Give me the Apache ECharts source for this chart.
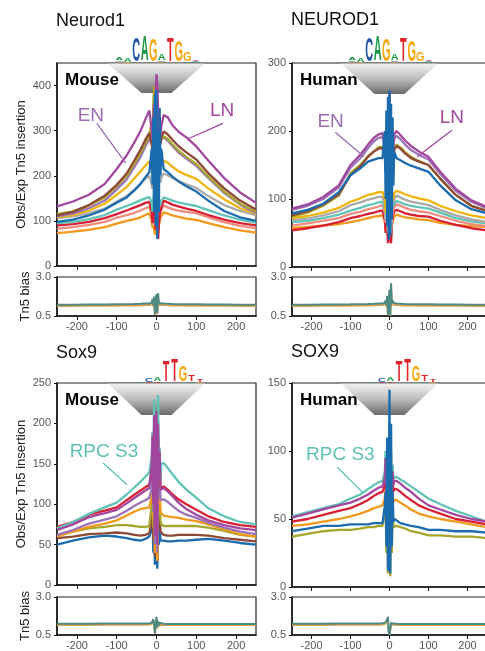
<!DOCTYPE html>
<html>
<head>
<meta charset="utf-8">
<script src="https://cdn.jsdelivr.net/npm/echarts@6/dist/echarts.min.js"></script>
<style>
html, body { margin: 0; padding: 0; background: #fff; overflow: hidden; }
#chart { width: 490px; height: 651px; }
</style>
</head>
<body>
<div id="chart"></div>
<script>
// distance from motif centre (bp)
const bp = [-250,-210,-170,-130,-100,-75,-55,-40,-28,-18, -12,-10,-8,-6,-4,-2,0,2,4,6,8,10,12, 18,28,40,55,75,100,130,170,210,250];
const xTicks = [-200, -100, 0, 100, 200];

// Neurod1, mouse (Obs/Exp Tn5 insertion)
const nmPurple = [132,143,158,182,215,245,275,300,325,345, 300,280,330,360,320,390,425,400,350,300,330,290,310, 335,330,312,298,285,265,234,195,163,140];
const nmBrown  = [112,120,135,156,180,205,235,258,280,295, 270,255,290,330,300,340,360,345,320,280,300,270,285, 298,292,280,266,252,236,206,172,145,125];
const nmOlive  = [115,121,134,152,177,200,228,250,272,288, 320,300,360,400,370,390,380,340,330,310,290,300,280, 288,282,270,256,242,226,198,165,138,120];
const nmLav    = [110,116,128,145,170,192,220,242,265,282, 270,260,300,320,300,330,350,320,300,280,290,275,280, 285,278,266,252,238,222,195,162,136,117];
const nmYellow = [108,113,123,138,158,175,195,210,222,232, 210,200,240,270,250,290,300,280,250,215,240,220,225, 234,229,220,210,202,193,172,148,128,116];
const nmGray   = [106,110,117,127,143,155,170,183,193,200, 180,170,200,230,210,250,260,240,220,190,200,185,195, 205,201,195,188,181,173,155,135,122,113];
const nmTeal   = [95,98,104,113,125,133,140,146,150,153, 140,120,150,170,130,160,180,150,120,130,140,135,145, 152,149,145,141,137,133,124,112,103,96];
const nmRed    = [90,93,98,106,115,123,130,135,140,142, 120,95,130,140,100,80,110,70,60,90,115,120,130, 145,141,136,132,127,122,113,103,95,90];
const nmSalmon = [83,86,91,98,107,113,118,123,128,131, 115,100,120,130,110,95,105,90,95,110,120,118,125, 134,130,126,123,120,117,108,97,89,84];
const nmOrange = [73,76,80,86,94,100,104,108,113,117, 100,85,90,80,70,75,85,65,75,90,100,108,112, 119,116,112,109,105,102,95,86,79,74];
const nmBlue   = [98,103,112,125,140,152,168,182,197,208, 260,180,330,120,380,90,390,60,300,120,350,200,260, 215,208,198,188,177,165,145,122,108,100];

// NEUROD1, human
const nhPurple = [86,92,103,120,150,165,180,190,195,197, 180,160,190,220,170,210,260,200,170,160,190,180,195, 200,194,186,178,170,162,140,115,98,88];
const nhLav    = [84,90,100,117,146,160,175,185,190,191, 175,155,180,200,160,200,240,190,160,155,180,175,188, 193,188,180,172,165,158,137,112,96,86];
const nhBrown  = [76,82,92,107,135,148,162,170,174,175, 160,140,170,190,150,190,230,180,150,140,165,160,172, 178,174,167,160,155,150,130,106,90,82];
const nhOlive  = [74,80,90,105,138,150,163,170,176,177, 165,145,175,200,155,195,240,185,155,145,170,165,175, 180,176,169,162,156,150,130,106,90,83];
const nhBlue   = [79,84,93,110,135,145,155,158,160,160, 200,100,230,60,250,40,260,45,240,70,220,120,170, 160,157,153,149,145,140,120,98,85,79];
const nhYellow = [72,75,80,87,96,101,106,108,110,110, 100,80,110,90,70,110,130,90,70,95,110,100,108, 112,110,107,104,101,98,90,82,76,72];
const nhGray   = [69,71,76,82,91,95,99,101,103,103, 90,70,95,80,50,100,120,70,50,85,100,95,100, 105,102,99,96,94,91,84,76,70,66];
const nhTeal   = [66,68,72,77,83,87,91,93,95,96, 85,70,90,80,60,90,100,75,60,80,90,88,92, 97,95,92,90,88,86,80,72,67,64];
const nhSalmon = [61,64,68,72,78,81,85,87,89,91, 80,65,85,75,55,80,90,65,55,70,80,82,88, 92,90,87,84,82,80,75,68,63,60];
const nhRed    = [54,57,61,66,72,75,78,80,82,83, 70,50,80,60,35,70,80,40,35,60,75,78,82, 84,82,79,77,75,74,68,62,57,54];
const nhOrange = [57,59,61,63,66,69,72,74,75,76, 68,55,70,60,45,65,70,50,45,60,68,70,74, 77,75,73,72,70,69,65,62,60,59];

// Sox9, mouse
const smTeal   = [70,78,88,96,102,112,121,128,134,139, 160,190,120,230,80,140,200,60,235,140,170,130,150, 151,145,137,128,118,108,95,85,78,75];
const smRed    = [72,78,87,92,96,105,112,117,121,124, 140,170,110,190,70,120,160,60,180,120,150,120,122, 122,118,112,106,100,93,85,78,74,72];
const smPurple = [68,75,84,89,93,101,108,113,117,120, 150,185,100,210,60,150,215,50,200,140,165,118,120, 120,116,110,102,94,87,80,74,70,68];
const smLav    = [62,68,76,81,85,92,98,102,105,108, 120,150,90,170,50,120,170,40,160,110,140,105,106, 106,103,98,92,87,83,77,71,66,63];
const smOrange = [60,66,72,76,80,86,91,94,95,96, 110,140,80,150,40,100,140,30,140,100,120,90,88, 86,85,84,83,81,79,75,69,63,60];
const smOlive  = [62,66,70,72,74,74,73,72,72,73, 100,130,70,150,40,100,130,30,120,90,110,80,75, 73,73,73,73,73,73,71,67,62,60];
const smBrown  = [58,60,63,64,65,64,62,61,62,64, 80,100,55,110,35,80,100,30,90,70,85,66,64, 62,61,61,62,62,62,61,58,56,54];
const smBlue   = [50,55,59,61,60,58,56,55,57,60, 70,90,40,100,25,60,110,20,90,50,80,55,57, 55,54,54,55,55,56,57,55,52,50];

// SOX9, human
const shTeal   = [52,55,58,61,65,68,72,75,77,78, 85,100,70,95,50,80,110,40,90,70,90,80,80, 81,79,77,74,70,65,61,56,52,48];
const shPurple = [51,54,57,60,62,65,68,71,73,74, 80,95,65,90,40,70,100,35,85,65,85,75,78, 78,76,73,70,65,60,57,53,50,48];
const shRed    = [48,50,53,56,58,61,64,67,69,70, 75,90,60,85,35,65,95,30,80,60,80,70,72, 72,70,67,64,60,57,54,50,48,46];
const shOrange = [45,46,48,50,52,54,56,58,59,60, 65,80,50,75,30,60,85,25,75,55,70,62,64, 64,62,60,57,54,52,50,48,46,44];
const shBlue   = [41,43,45,45,46,46,46,47,47,47, 60,70,30,110,12,60,145,10,120,30,70,48,50, 49,47,46,45,44,42,42,41,41,40];
const shOlive  = [37,39,41,42,42,43,44,44,45,45, 55,65,25,90,10,50,120,8,100,25,60,44,45, 45,44,43,41,40,38,38,37,37,36];

// Tn5 bias
const nmBiasTeal   = [1.22,1.22,1.23,1.24,1.25,1.26,1.27,1.28,1.30,1.30, 1.35,1.6,1.2,1.75,0.6,1.5,1.9,0.7,1.95,1.3,1.4,1.35,1.32, 1.3,1.29,1.27,1.26,1.25,1.25,1.24,1.23,1.22,1.22];
const nmBiasOrange = [1.14,1.14,1.15,1.15,1.16,1.17,1.18,1.19,1.2,1.2, 1.25,1.45,1.1,1.55,0.55,1.35,1.65,0.6,1.7,1.2,1.3,1.25,1.22, 1.2,1.19,1.18,1.17,1.16,1.16,1.15,1.15,1.14,1.14];
const nhBiasTeal   = [1.22,1.22,1.23,1.24,1.25,1.26,1.27,1.28,1.30,1.30, 1.35,1.5,1.2,1.8,0.6,1.4,2.2,0.5,2.6,1.3,1.5,1.35,1.32, 1.3,1.29,1.27,1.26,1.25,1.25,1.24,1.23,1.22,1.22];
const nhBiasOrange = [1.14,1.14,1.15,1.15,1.16,1.17,1.18,1.19,1.2,1.2, 1.25,1.4,1.1,1.6,0.55,1.3,1.9,0.5,2.2,1.2,1.35,1.25,1.22, 1.2,1.19,1.18,1.17,1.16,1.16,1.15,1.15,1.14,1.14];
const smBiasTeal   = [1.24,1.24,1.24,1.25,1.25,1.25,1.25,1.26,1.26,1.27, 1.3,1.4,1.55,1.2,0.6,0.5,1.7,1.0,1.4,1.15,1.3,1.25,1.25, 1.24,1.23,1.23,1.23,1.23,1.23,1.23,1.23,1.23,1.23];
const smBiasOrange = [1.16,1.16,1.16,1.17,1.17,1.17,1.17,1.18,1.18,1.19, 1.22,1.3,1.45,1.1,0.6,0.5,1.55,0.95,1.3,1.1,1.2,1.18,1.17, 1.16,1.15,1.15,1.15,1.15,1.15,1.15,1.15,1.15,1.15];
const shBiasTeal   = [1.24,1.24,1.24,1.25,1.25,1.25,1.25,1.26,1.26,1.27, 1.3,1.35,1.4,1.5,1.7,0.7,0.5,0.6,1.3,1.2,1.25,1.25,1.25, 1.24,1.23,1.23,1.23,1.23,1.23,1.23,1.23,1.23,1.23];
const shBiasOrange = [1.16,1.16,1.16,1.17,1.17,1.17,1.17,1.18,1.18,1.19, 1.22,1.27,1.3,1.4,1.55,0.7,0.5,0.6,1.2,1.12,1.17,1.17,1.17, 1.16,1.15,1.15,1.15,1.15,1.15,1.15,1.15,1.15,1.15];

// motif logos: one stack per position, [letter, bits] bottom to top
const neurodMotif = [[['G',0.1],['C',0.1],['A',0.2]], [['G',0.08],['A',0.25]], [['C',1.85]], [['A',1.95]], [['G',1.75]],
  [['G',0.1],['C',0.1],['A',0.5]], [['T',1.85]], [['G',1.6]], [['A',0.1],['G',0.75]], [['A',0.08],['C',0.08],['T',0.1]]];
const soxMotif = [[['A',0.03]], [['C',0.03]], [['G',0.03]], [['A',0.05]], [['T',0.08],['C',0.3]], [['T',0.1],['A',0.3]],
  [['T',1.65]], [['T',1.75]], [['G',1.25]], [['A',0.1],['T',0.55]], [['G',0.05],['T',0.15]]];

const C = {
  purple: '#A2479E', lav: '#9B74B8', brown: '#8E4A36', olive: '#A5A62B', yellow: '#F1B60D', gray: '#AAAAAA',
  teal: '#62C3B7', red: '#D81F34', salmon: '#F08C7E', orange: '#F2991C', blue: '#1B6CAE',
  biasTeal: '#4D8A84', biasOrange: '#E0A04B'
};
const LOGO_COL = { A: '#1A9848', C: '#2356A8', G: '#F5A80F', T: '#E1222B' };

const grids = [
  { left: 57, top: 63, width: 199, height: 203 },
  { left: 57, top: 277, width: 199, height: 39 },
  { left: 292, top: 63, width: 195, height: 204 },
  { left: 292, top: 277, width: 195, height: 39 },
  { left: 57, top: 383, width: 199, height: 202 },
  { left: 57, top: 597, width: 199, height: 40 },
  { left: 292, top: 383, width: 195, height: 204 },
  { left: 292, top: 597, width: 195, height: 39 }
];

const panels = [
  { main: 0, bias: 1, ymax: 450, yticks: [0, 100, 200, 300, 400], yName: true, title: 'Neurod1', titleY: 21, species: 'Mouse', motif: neurodMotif, funnelH: 30,
    lines: [['orange', nmOrange], ['salmon', nmSalmon], ['red', nmRed], ['teal', nmTeal], ['gray', nmGray], ['yellow', nmYellow],
            ['lav', nmLav], ['olive', nmOlive], ['brown', nmBrown], ['purple', nmPurple], ['blue', nmBlue]],
    biasLines: [['biasOrange', nmBiasOrange], ['biasTeal', nmBiasTeal]],
    notes: [{ text: 'EN', color: '#9A6DB3', at: [-165, 334], from: [-150, 316], to: [-77, 228] },
            { text: 'LN', color: '#A2479E', at: [165, 345], from: [167, 316], to: [77, 281] }] },
  { main: 2, bias: 3, ymax: 300, yticks: [0, 100, 200, 300], yName: false, title: 'NEUROD1', titleY: 20, species: 'Human', motif: neurodMotif, funnelH: 31,
    lines: [['orange', nhOrange], ['red', nhRed], ['salmon', nhSalmon], ['teal', nhTeal], ['gray', nhGray], ['yellow', nhYellow],
            ['olive', nhOlive], ['brown', nhBrown], ['lav', nhLav], ['purple', nhPurple], ['blue', nhBlue]],
    biasLines: [['biasOrange', nhBiasOrange], ['biasTeal', nhBiasTeal]],
    notes: [{ text: 'EN', color: '#9A6DB3', at: [-151, 213], from: [-139, 198], to: [-65, 162] },
            { text: 'LN', color: '#A2479E', at: [160, 220], from: [160, 201], to: [71, 162] }] },
  { main: 4, bias: 5, ymax: 250, yticks: [0, 50, 100, 150, 200, 250], yName: true, title: 'Sox9', titleY: 353, species: 'Mouse', motif: soxMotif, funnelH: 32,
    lines: [['blue', smBlue], ['brown', smBrown], ['olive', smOlive], ['orange', smOrange], ['lav', smLav], ['red', smRed],
            ['teal', smTeal], ['purple', smPurple]],
    biasLines: [['biasOrange', smBiasOrange], ['biasTeal', smBiasTeal]],
    notes: [{ text: 'RPC S3', color: '#5FC0B5', at: [-132, 165], from: [-134, 151], to: [-74, 124] }] },
  { main: 6, bias: 7, ymax: 150, yticks: [0, 50, 100, 150], yName: false, title: 'SOX9', titleY: 352, species: 'Human', motif: soxMotif, funnelH: 32,
    lines: [['olive', shOlive], ['orange', shOrange], ['red', shRed], ['teal', shTeal], ['purple', shPurple], ['blue', shBlue]],
    biasLines: [['biasOrange', shBiasOrange], ['biasTeal', shBiasTeal]],
    notes: [{ text: 'RPC S3', color: '#5FC0B5', at: [-126, 97], from: [-134, 88], to: [-67, 69] }] }
];

const FONT = '"Liberation Sans", Arial, sans-serif';
const tickLabel = { color: '#555', fontSize: 11, fontFamily: FONT };

const xAxes = [], yAxes = [], series = [];
panels.forEach(p => {
  // main footprint axes
  xAxes.push({ gridIndex: p.main, type: 'value', min: -250, max: 250,
    axisLine: { onZero: false, lineStyle: { color: '#111', width: 1.5 } },
    axisTick: { customValues: xTicks, length: 4, lineStyle: { color: '#111' } },
    axisLabel: { show: false }, splitLine: { show: false } });
  yAxes.push({ gridIndex: p.main, type: 'value', min: 0, max: p.ymax,
    name: p.yName ? 'Obs/Exp Tn5 insertion' : '', nameLocation: 'middle', nameGap: 29,
    nameTextStyle: { color: '#222', fontSize: 13, fontFamily: FONT },
    axisLine: { show: true, onZero: false, lineStyle: { color: '#111', width: 1.5 } },
    axisTick: { show: true, customValues: p.yticks, length: 3, lineStyle: { color: '#111' } },
    axisLabel: Object.assign({ customValues: p.yticks, margin: 6 }, tickLabel),
    splitLine: { show: false } });
  // bias axes
  xAxes.push({ gridIndex: p.bias, type: 'value', min: -250, max: 250,
    axisLine: { onZero: false, lineStyle: { color: '#111', width: 1.5 } },
    axisTick: { customValues: xTicks, length: 4, lineStyle: { color: '#111' } },
    axisLabel: Object.assign({ customValues: xTicks, margin: 5 }, tickLabel), splitLine: { show: false } });
  yAxes.push({ gridIndex: p.bias, type: 'value', min: 0.5, max: 3,
    name: p.yName ? 'Tn5 bias' : '', nameLocation: 'middle', nameGap: 25,
    nameTextStyle: { color: '#222', fontSize: 13, fontFamily: FONT },
    axisLine: { show: true, onZero: false, lineStyle: { color: '#111', width: 1.5 } },
    axisTick: { show: true, customValues: [0.5, 3], length: 3, lineStyle: { color: '#111' } },
    axisLabel: Object.assign({ customValues: [0.5, 3], margin: 6, formatter: v => v.toFixed(1) }, tickLabel),
    splitLine: { show: false } });

  p.lines.forEach(([key, vals]) => {
    series.push({ type: 'line', xAxisIndex: p.main, yAxisIndex: p.main, data: vals.map((v, i) => [bp[i], v]),
      showSymbol: false, lineStyle: { color: C[key], width: 2.3 }, z: 3, silent: true, animation: false });
  });
  p.biasLines.forEach(([key, vals]) => {
    series.push({ type: 'line', xAxisIndex: p.bias, yAxisIndex: p.bias, data: vals.map((v, i) => [bp[i], v]),
      showSymbol: false, lineStyle: { color: C[key], width: 2 }, z: 3, silent: true, animation: false });
  });
});

const chart = echarts.init(document.getElementById('chart'));
chart.setOption({
  animation: false,
  grid: grids.map(g => Object.assign({ show: true, borderColor: '#222', borderWidth: 1.2, backgroundColor: 'transparent' }, g)),
  xAxis: xAxes,
  yAxis: yAxes,
  series: series
});

// decorations: titles, species tags, motif funnels, logos, callouts
function logo(cx, baseY, motif, colW, bitPx) {
  const out = [];
  const x0 = cx - motif.length * colW / 2;
  const F = 20;
  motif.forEach((stack, i) => {
    let y = baseY;
    stack.forEach(([ch, bits]) => {
      const h = bits * bitPx;
      const sy = h / (0.72 * F);
      const sx = colW / (0.78 * F);
      out.push({ type: 'text', x: x0 + (i + 0.5) * colW, y: y + 0.15 * F * sy, scaleX: sx, scaleY: sy, z: 60,
        style: { text: ch, fill: LOGO_COL[ch], font: 'bold ' + F + 'px ' + FONT, align: 'center', verticalAlign: 'bottom' } });
      y -= h;
    });
  });
  return out;
}

const graphic = [];
panels.forEach(p => {
  const g = grids[p.main];
  const cx = chart.convertToPixel({ gridIndex: p.main }, [0, 0])[0];
  graphic.push({ type: 'text', x: g.left - 1, y: p.titleY, z: 60,
    style: { text: p.title, fill: '#111', font: '18px ' + FONT, verticalAlign: 'middle' } });
  graphic.push({ type: 'polygon', z: 1,
    shape: { points: [[cx - 49, g.top], [cx + 49, g.top], [cx + 15, g.top + p.funnelH], [cx - 15, g.top + p.funnelH]] },
    style: { fill: new echarts.graphic.LinearGradient(0, 0, 0, 1, [
      { offset: 0, color: '#f4f4f4' }, { offset: 0.5, color: '#bdbdbd' }, { offset: 1, color: '#6a6a6a' }]) } });
  graphic.push({ type: 'line', z: 55, shape: { x1: cx - 49, y1: g.top, x2: cx + 49, y2: g.top },
    style: { stroke: '#777', lineWidth: 1.2 } });
  graphic.push({ type: 'text', x: g.left + 8, y: g.top + 17, z: 60,
    style: { text: p.species, fill: '#000', font: 'bold 17px ' + FONT, verticalAlign: 'middle' } });
  logo(cx + 1, g.top, p.motif, 8.5, 13).forEach(e => graphic.push(e));
  p.notes.forEach(n => {
    const a = chart.convertToPixel({ gridIndex: p.main }, n.at);
    const f = chart.convertToPixel({ gridIndex: p.main }, n.from);
    const t = chart.convertToPixel({ gridIndex: p.main }, n.to);
    graphic.push({ type: 'text', x: a[0], y: a[1], z: 60,
      style: { text: n.text, fill: n.color, font: '19px ' + FONT, align: 'center', verticalAlign: 'middle' } });
    graphic.push({ type: 'line', z: 60, shape: { x1: f[0], y1: f[1], x2: t[0], y2: t[1] },
      style: { stroke: n.color, lineWidth: 1.3 } });
  });
});
chart.setOption({ graphic: graphic });
</script>
</body>
</html>
